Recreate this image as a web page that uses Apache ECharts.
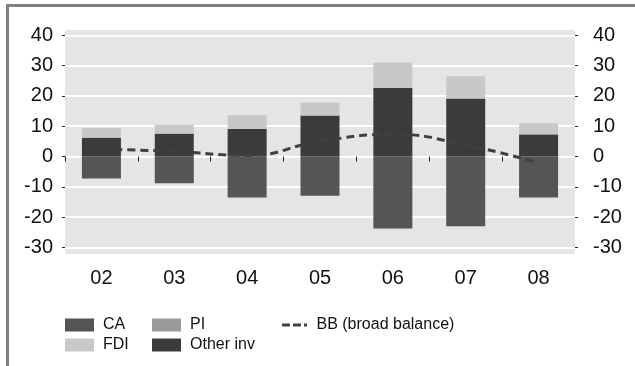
<!DOCTYPE html>
<html>
<head>
<meta charset="utf-8">
<script src="https://cdn.jsdelivr.net/npm/echarts@6/dist/echarts.min.js"></script>
<style>
html,body{margin:0;padding:0;background:#fff;}
#c{width:635px;height:366px;}
</style>
</head>
<body>
<div id="c"></div>
<script>
var categories = ['02','03','04','05','06','07','08'];
var caValues = [-7.2, -8.8, -13.5, -12.9, -23.7, -23.0, -13.5];
var otherInvValues = [6.2, 7.5, 9.1, 13.5, 22.6, 19.0, 7.1];
var piValues = [0.1, 0.1, 0.1, 0.1, 0.2, 0.2, 0.5];
var fdiValues = [3.1, 2.9, 4.4, 4.2, 8.2, 7.3, 3.4];
var bbValues = [2.4, 1.7, 0.4, 5.0, 7.3, 3.8, -2.1];
var yTicks = [-30, -20, -10, 0, 10, 20, 30, 40];
var xTickPositions = [0, 1, 2, 3, 4, 5, 6];

var FONT = '"Liberation Sans", Arial, sans-serif';
var chart = echarts.init(document.getElementById('c'), null, {renderer: 'canvas'});

function legendAt(name, left, top, icon, w, h) {
  return {
    data: [name], left: left, top: top, itemWidth: w || 29, itemHeight: h || 13,
    padding: 0, selectedMode: false, icon: icon,
    textStyle: {fontFamily: FONT, fontSize: 16, color: '#111', padding: [0,0,0,4]}
  };
}

var option = {
  animation: false,
  backgroundColor: '#fff',
  graphic: [
    {type: 'rect', z: -100, silent: true, shape: {x: 65, y: 30, width: 510, height: 224}, style: {fill: '#e5e5e5'}},
    {type: 'rect', z: 100, silent: true, shape: {x: 6, y: 4, width: 629, height: 3}, style: {fill: '#808080'}},
    {type: 'rect', z: 100, silent: true, shape: {x: 6, y: 4, width: 3, height: 362}, style: {fill: '#808080'}}
  ],
  legend: [
    legendAt('CA', 65, 317, 'rect'),
    legendAt('PI', 152, 317, 'rect'),
    legendAt('BB (broad balance)', 282, 317, 'path://M0,0h8v3h-8z M11,0h8v3h-8z M22,0h3v3h-3z', 26, 3),
    legendAt('FDI', 65, 337, 'rect'),
    legendAt('Other inv', 152, 337, 'rect')
  ],
  grid: {left: 65, right: 60, top: 35.3, height: 212.2, containLabel: false},
  xAxis: [{
    type: 'category', data: categories, offset: 7,
    axisLine: {show: false},
    axisTick: {show: false},
    axisLabel: {fontFamily: FONT, fontSize: 20, color: '#111', margin: 14},
    splitLine: {show: false}
  }, {
    type: 'value', min: 0, max: 7, interval: 1, offset: 7, position: 'bottom',
    axisLine: {show: false},
    axisTick: {show: true, length: 5, customValues: xTickPositions, lineStyle: {color: '#222', width: 1}},
    axisLabel: {show: false},
    splitLine: {show: false}
  }],
  yAxis: [{
    type: 'value', min: -30, max: 40, interval: 10, position: 'left',
    axisLine: {show: false},
    axisTick: {show: true, length: 3, lineStyle: {color: '#222'}},
    axisLabel: {fontFamily: FONT, fontSize: 20, color: '#111', margin: 12},
    splitLine: {show: true, lineStyle: {color: '#fff', width: 2}}
  }, {
    type: 'value', min: -30, max: 40, interval: 10, position: 'right',
    axisLine: {show: false},
    axisTick: {show: true, length: 3, lineStyle: {color: '#222'}},
    axisLabel: {fontFamily: FONT, fontSize: 20, color: '#111', margin: 18},
    splitLine: {show: false}
  }],
  series: [
    {name: 'CA', type: 'bar', stack: 's', data: caValues, barWidth: 39, itemStyle: {color: '#555555'}},
    {name: 'Other inv', type: 'bar', stack: 's', data: otherInvValues, barWidth: 39, itemStyle: {color: '#3b3b3b'}},
    {name: 'PI', type: 'bar', stack: 's', data: piValues, barWidth: 39, itemStyle: {color: '#999999'}},
    {name: 'FDI', type: 'bar', stack: 's', data: fdiValues, barWidth: 39, itemStyle: {color: '#c8c8c8'}},
    {name: 'BB (broad balance)', type: 'line', data: bbValues, smooth: true, symbol: 'none', z: 5,
     itemStyle: {color: '#404040'},
     lineStyle: {color: '#404040', width: 3, type: [8, 5]}}
  ]
};
chart.setOption(option);
</script>
</body>
</html>
